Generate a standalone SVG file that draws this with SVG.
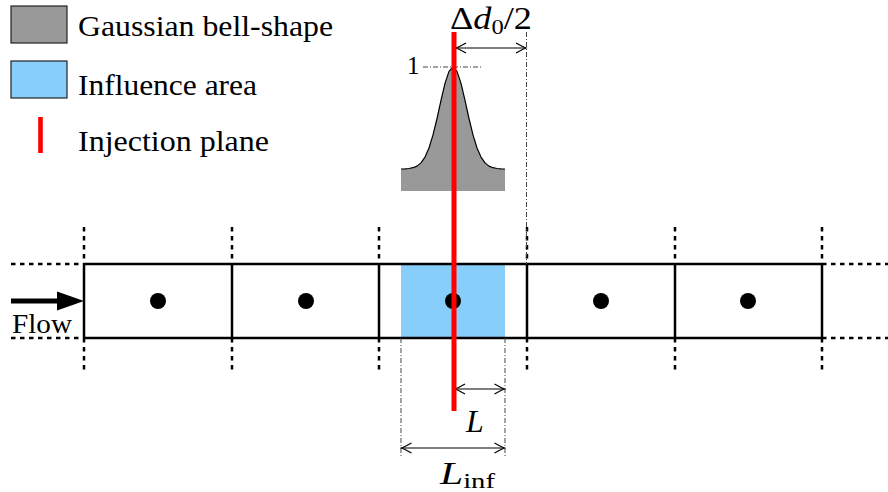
<svg xmlns="http://www.w3.org/2000/svg" width="888" height="492" viewBox="0 0 888 492">
<defs>
<marker id="ah" markerWidth="14" markerHeight="12" refX="0" refY="0" viewBox="-12 -6 14 12" orient="auto-start-reverse" markerUnits="userSpaceOnUse">
<path d="M-10,-5 Q-3,-1 0,0 Q-3,1 -10,5" fill="none" stroke="#000" stroke-width="1.2"/>
</marker>
</defs>
<g id="legend">
<rect x="11" y="6" width="56" height="37" fill="#999" stroke="#222" stroke-width="1.2"/>
<text x="78" y="36" font-family="Liberation Serif" font-size="30" textLength="255" lengthAdjust="spacingAndGlyphs">Gaussian bell-shape</text>
<rect x="11" y="61" width="56" height="37" fill="#87CEFA" stroke="#222" stroke-width="1.2"/>
<text x="78" y="95" font-family="Liberation Serif" font-size="30" textLength="179" lengthAdjust="spacingAndGlyphs">Influence area</text>
<rect x="38.2" y="117" width="4.6" height="36" fill="#f00"/>
<text x="78" y="151" font-family="Liberation Serif" font-size="30" textLength="191" lengthAdjust="spacingAndGlyphs">Injection plane</text>
</g>
<g id="influence">
<rect x="401" y="264" width="104" height="74" fill="#87CEFA"/>
</g>
<g id="gaussian">
<path d="M401,169 L405,168.8 409,168.5 413,167.7 417,166.1 421,162.9 425,157.1 429,148 433,134.9 437,118.5 441,100.3 445,83.4 449,71.4 453,67 457,71.4 461,83.4 465,100.3 469,118.5 473,134.9 477,148 481,157.1 485,162.9 489,166.1 493,167.7 497,168.5 501,168.8 505,169 L505,191 L401,191 Z" fill="#999"/>
<path d="M401,169 L405,168.8 409,168.5 413,167.7 417,166.1 421,162.9 425,157.1 429,148 433,134.9 437,118.5 441,100.3 445,83.4 449,71.4 453,67 457,71.4 461,83.4 465,100.3 469,118.5 473,134.9 477,148 481,157.1 485,162.9 489,166.1 493,167.7 497,168.5 501,168.8 505,169" fill="none" stroke="#000" stroke-width="1.2" stroke-linejoin="round"/>
<line x1="423" y1="67" x2="483" y2="67" stroke="#444" stroke-width="1" stroke-dasharray="5 2 1 2"/>
<text x="407" y="74" font-family="Liberation Serif" font-size="25">1</text>
</g>
<g id="cells" stroke="#000" stroke-width="2.5" fill="none">
<path d="M84,264 H822 M84,338 H822 M84,264 V338 M232,264 V338 M379,264 V338 M527,264 V338 M675,264 V338 M822,264 V338"/>
<path stroke-dasharray="4.5 4.5" d="M11,264 H84 M11,338 H84 M822,264 H888 M822,338 H888 M84,227 V264 M232,227 V264 M379,227 V264 M527,227 V264 M675,227 V264 M822,227 V264 M84,338 V372 M232,338 V372 M379,338 V372 M527,338 V372 M675,338 V372 M822,338 V372"/>
<g fill="#000" stroke="none">
<circle cx="158" cy="301" r="8"/>
<circle cx="306" cy="301" r="8"/>
<circle cx="453" cy="301" r="8"/>
<circle cx="601" cy="301" r="8"/>
<circle cx="748" cy="301" r="8"/>
</g>
</g>
<g id="flow">
<line x1="11" y1="301" x2="60" y2="301" stroke="#000" stroke-width="5"/>
<path d="M57,291.5 L84,301 L57,310.5 Z" fill="#000"/>
<text x="12" y="333" font-family="Liberation Serif" font-size="28" textLength="60" lengthAdjust="spacingAndGlyphs">Flow</text>
</g>
<g id="connectors" fill="none">
<g stroke="#444" stroke-width="1" stroke-dasharray="5 2 1 2">
<line x1="526.5" y1="32" x2="526.5" y2="264"/>
<line x1="401" y1="338" x2="401" y2="456"/>
<line x1="505" y1="338" x2="505" y2="456"/>
</g>
<g stroke="#000" stroke-width="1.2" marker-start="url(#ah)" marker-end="url(#ah)">
<line x1="456" y1="48" x2="526" y2="48"/>
<line x1="455" y1="389" x2="504.5" y2="389"/>
<line x1="401.5" y1="448" x2="504.5" y2="448"/>
</g>
</g>
<g id="injection">
<rect x="451.5" y="32" width="5" height="379" fill="#f00"/>
</g>
<g id="labels">
<text x="450" y="29" font-family="Liberation Serif" font-size="31" textLength="82" lengthAdjust="spacingAndGlyphs">Δ<tspan font-style="italic">d</tspan><tspan font-size="21" dy="5">0</tspan><tspan dy="-5">/2</tspan></text>
<text x="466" y="432" font-family="Liberation Serif" font-size="32" font-style="italic">L</text>
<text x="440" y="484" font-family="Liberation Serif" font-size="32" textLength="55" lengthAdjust="spacingAndGlyphs"><tspan font-style="italic">L</tspan><tspan font-size="22" dy="4">inf</tspan></text>
</g>
</svg>
